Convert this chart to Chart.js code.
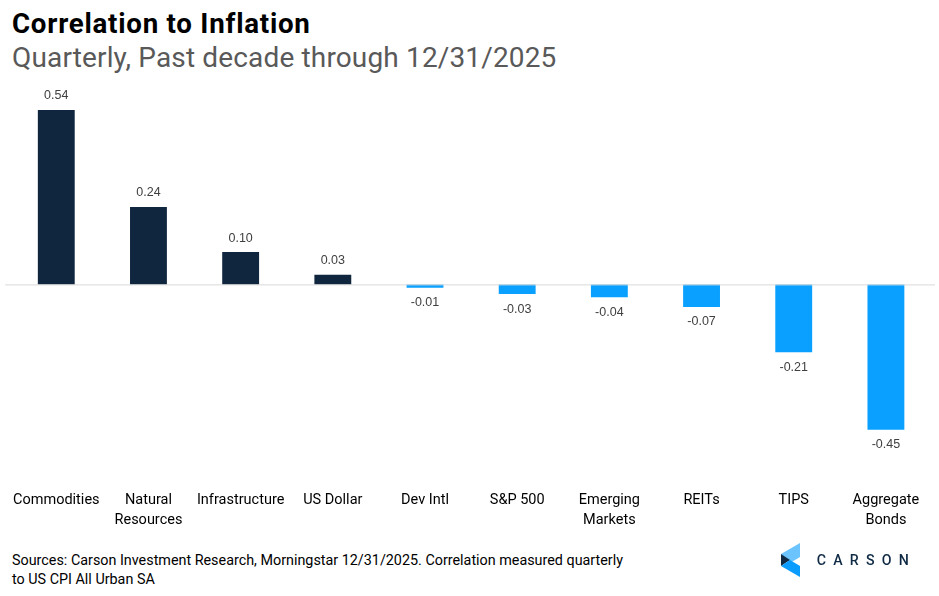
<!DOCTYPE html>
<html>
<head>
<meta charset="utf-8">
<script src="https://cdn.jsdelivr.net/npm/chart.js@4.4.1/dist/chart.umd.min.js"></script>
<style>
  html, body { margin: 0; padding: 0; background: #fff; }
  body { width: 939px; height: 596px; position: relative; overflow: hidden; font-family: Roboto, "Noto Sans", sans-serif; }
  #title { position: absolute; left: 12px; top: 6.6px; font-size: 27.7px; line-height: normal; font-weight: 700; color: #000; letter-spacing: 0.75px; white-space: nowrap; }
  #subtitle { position: absolute; left: 12px; top: 40.7px; font-size: 28px; line-height: normal; color: #595959; letter-spacing: 0.15px; white-space: nowrap; }
  #wrap { position: absolute; left: 0; top: 80px; width: 939px; height: 463.4px; }
  #source { position: absolute; left: 12px; top: 551px; font-size: 14.35px; line-height: 19px; color: #000; white-space: nowrap; }
  #logo { position: absolute; left: 776px; top: 540px; }
</style>
</head>
<body>
<div id="title">Correlation to Inflation</div>
<div id="subtitle">Quarterly, Past decade through 12/31/2025</div>
<div id="wrap"><canvas id="myChart"></canvas></div>
<div id="source">Sources: Carson Investment Research, Morningstar 12/31/2025. Correlation measured quarterly<br>to US CPI All Urban SA</div>
<svg id="logo" width="150" height="40" viewBox="0 0 150 40">
  <polygon points="5,14 24,3 24,17 14,23" fill="#6cc4ff"/>
  <polygon points="5,14 14,20 5,26" fill="#0f2a44"/>
  <polygon points="5,26 14,20 24,26 24,37" fill="#0a9cff"/>
  <text x="40.7" y="25" font-family="Roboto, sans-serif" font-size="14.2" font-weight="500" letter-spacing="7.2" fill="#0f2a44">CARSON</text>
</svg>
<script>
    var labels = ['Commodities', ['Natural', 'Resources'], 'Infrastructure', 'US Dollar', 'Dev Intl',
        'S&P 500', ['Emerging', 'Markets'], 'REITs', 'TIPS', ['Aggregate', 'Bonds']]
    var values = [0.54, 0.24, 0.10, 0.03, -0.01, -0.03, -0.04, -0.07, -0.21, -0.45]
    var barColors = values.map(function(v) { return v >= 0 ? '#10263f' : '#0aa0ff' })

    // zero line + value labels on top of / below each bar
    var barLabels = {
        id: 'barLabels',
        afterDatasetsDraw: function(chart) {
            var ctx = chart.ctx
            var area = chart.chartArea
            var y0 = chart.scales.y.getPixelForValue(0)
            ctx.save()
            ctx.strokeStyle = '#d9d9d9'
            ctx.lineWidth = 1
            ctx.beginPath()
            ctx.moveTo(area.left - 5, y0 + 0.5)
            ctx.lineTo(area.right + 3, y0 + 0.5)
            ctx.stroke()
            ctx.font = '12.5px "Liberation Sans", Arial, sans-serif'
            ctx.fillStyle = '#404040'
            ctx.textAlign = 'center'
            ctx.textBaseline = 'middle'
            chart.getDatasetMeta(0).data.forEach(function(bar, i) {
                var v = values[i]
                var y = v >= 0 ? bar.y - 14 : bar.y + 15
                ctx.fillText(v.toFixed(2), bar.x, y)
            })
            ctx.restore()
        }
    }

    var ctx = document.getElementById('myChart').getContext('2d');
    var myChart = new Chart(ctx, {
        type: 'bar',
        data: {
            labels: labels,
            datasets: [{
                data: values,
                backgroundColor: barColors,
                barPercentage: 0.4,
                categoryPercentage: 1.0
            }]
        },
        options: {
            responsive: true,
            maintainAspectRatio: false,
            animation: false,
            layout: {
                padding: { left: 8, right: 7, top: 10.6, bottom: 0 }
            },
            plugins: {
                legend: { display: false },
                tooltip: { enabled: false }
            },
            scales: {
                x: {
                    grid: { display: false, drawTicks: false },
                    border: { display: false },
                    ticks: {
                        color: '#000',
                        padding: 12.6,
                        maxRotation: 0,
                        autoSkip: false,
                        font: { family: 'Roboto, sans-serif', size: 14.5, lineHeight: '20px' }
                    }
                },
                y: {
                    display: false,
                    min: -0.6,
                    max: 0.6
                }
            }
        },
        plugins: [barLabels]
    });
</script>
</body>
</html>
